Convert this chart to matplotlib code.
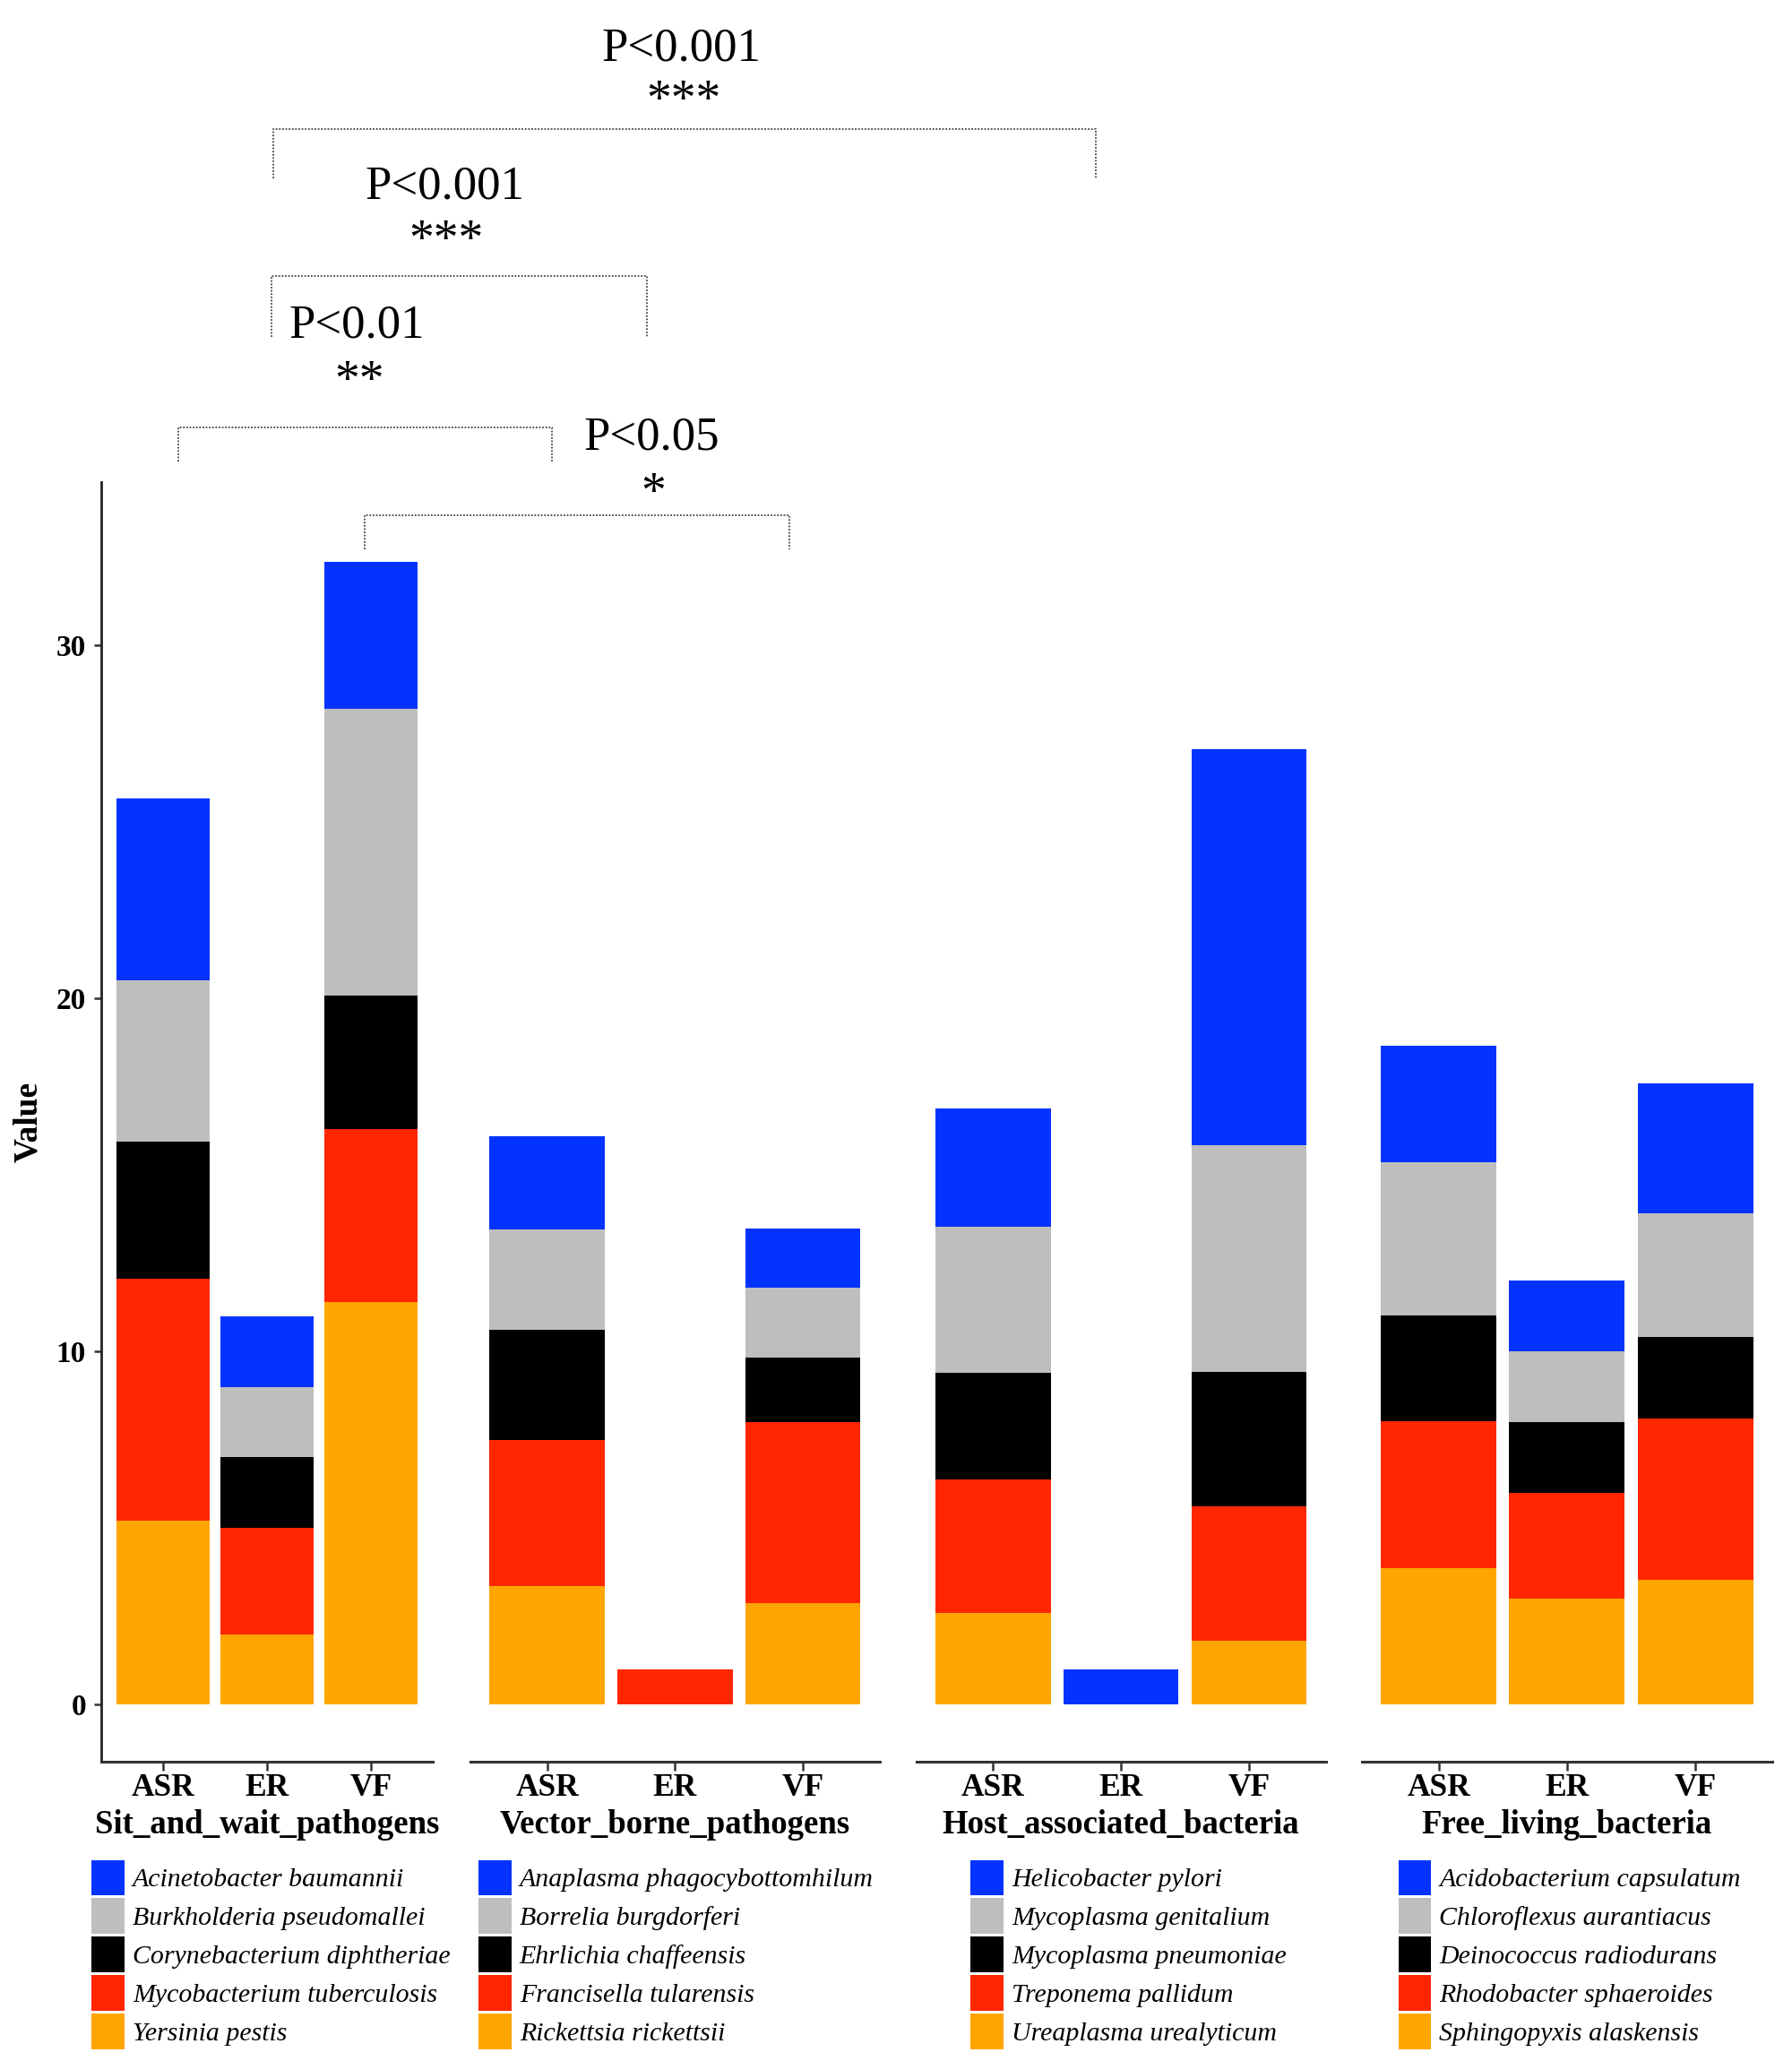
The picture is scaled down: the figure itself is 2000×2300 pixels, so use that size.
import numpy as np
import matplotlib.pyplot as plt
from matplotlib.patches import Patch

plt.rcParams['font.family'] = ['Liberation Serif', 'DejaVu Serif']

## data
groups = ['Sit_and_wait_pathogens', 'Vector_borne_pathogens',
          'Host_associated_bacteria', 'Free_living_bacteria']
conditions = ['ASR', 'ER', 'VF']

# species per group, legend order (top of stack first)
species = [
    ['Acinetobacter baumannii', 'Burkholderia pseudomallei', 'Corynebacterium diphtheriae',
     'Mycobacterium tuberculosis', 'Yersinia pestis'],
    ['Anaplasma phagocybottomhilum', 'Borrelia burgdorferi', 'Ehrlichia chaffeensis',
     'Francisella tularensis', 'Rickettsia rickettsii'],
    ['Helicobacter pylori', 'Mycoplasma genitalium', 'Mycoplasma pneumoniae',
     'Treponema pallidum', 'Ureaplasma urealyticum'],
    ['Acidobacterium capsulatum', 'Chloroflexus aurantiacus', 'Deinococcus radiodurans',
     'Rhodobacter sphaeroides', 'Sphingopyxis alaskensis'],
]

# segment values per group, rows = species (legend order), cols = ASR, ER, VF
sit_and_wait = [[5.15, 2.0, 4.16],
                [4.56, 2.0, 8.12],
                [3.88, 2.0, 3.79],
                [6.85, 3.0, 4.90],
                [5.22, 2.0, 11.39]]
vector_borne = [[2.64, 0.0, 1.69],
                [2.84, 0.0, 1.98],
                [3.11, 0.0, 1.82],
                [4.13, 1.0, 5.13],
                [3.37, 0.0, 2.87]]
host_associated = [[3.35, 1.0, 11.22],
                   [4.14, 0.0, 6.40],
                   [3.02, 0.0, 3.81],
                   [3.78, 0.0, 3.80],
                   [2.60, 0.0, 1.82]]
free_living = [[3.31, 2.0, 3.70],
               [4.32, 2.0, 3.50],
               [3.01, 2.0, 2.29],
               [4.15, 3.0, 4.56],
               [3.87, 3.0, 3.55]]
values = [sit_and_wait, vector_borne, host_associated, free_living]

colors = ['#0433FF', '#BEBEBE', '#000000', '#FF2600', '#FFA500']

# significance annotations: (x_left, x_right, y_bar, y_ends, p text, stars, p pos, star pos)
# positions in a 1366 x 1568 overlay frame
brackets = [
    (208, 835, 98, 136, 'P<0.001', '***', (519, 37), (521, 78)),
    (207, 493, 210, 256, 'P<0.001', '***', (339, 142), (340, 184)),
    (136, 421, 325, 351, 'P<0.01', '**', (272, 248), (274, 291)),
    (278, 602, 392, 418, 'P<0.05', '*', (497, 333), (498, 376)),
]

fig = plt.figure(figsize=(20, 23), dpi=100)

W, H = 1366.0, 1568.0
panel_x = [(77, 330), (358.5, 670.5), (698.5, 1010.5), (1038, 1351)]
y_top, y_bot = 367, 1340
legend_x = [70, 365, 740, 1066]
legend_top = 1415

axes = []
for g in range(4):
    x0, x1 = panel_x[g]
    ax = fig.add_axes([x0 / W, 1 - y_bot / H, (x1 - x0) / W, (y_bot - y_top) / H])
    axes.append(ax)
    vals = np.array(values[g])
    pos = np.arange(1, 4)
    bottom = np.zeros(3)
    # stack from bottom: last species first
    for k in range(4, -1, -1):
        ax.bar(pos, vals[k], 0.9, bottom=bottom, color=colors[k], linewidth=0)
        bottom += vals[k]
    ax.set_xlim(0.4, 3.6)
    ax.set_ylim(-1.6, 34.6)
    ax.set_xticks(pos)
    ax.set_xticklabels(conditions, fontsize=25.5, fontweight='bold')
    ax.set_xlabel(groups[g], fontsize=26.5, fontweight='bold', labelpad=5)
    ax.tick_params(axis='x', length=7, width=1.8, color='#333333', pad=3)
    for s in ['top', 'right']:
        ax.spines[s].set_visible(False)
    ax.spines['bottom'].set_linewidth(2.2)
    ax.spines['bottom'].set_color('#333333')
    if g == 0:
        ax.set_yticks([0, 10, 20, 30])
        ax.set_yticklabels(['0', '10', '20', '30'], fontsize=24, fontweight='bold')
        ax.tick_params(axis='y', length=6, width=1.8, color='#333333', pad=6)
        ax.set_ylabel('Value', fontsize=27, fontweight='bold', labelpad=10)
        ax.spines['left'].set_linewidth(2.0)
        ax.spines['left'].set_color('#222222')
    else:
        ax.spines['left'].set_visible(False)
        ax.set_yticks([])

    handles = [Patch(facecolor=c, edgecolor='none') for c in colors]
    ax.legend(handles, species[g], loc='upper left',
              bbox_to_anchor=(legend_x[g] / W, 1 - legend_top / H),
              bbox_transform=fig.transFigure, frameon=False,
              prop={'family': 'Liberation Serif', 'style': 'italic', 'size': 21.5},
              handlelength=1.22, handleheight=1.68, handletextpad=0.3,
              labelspacing=0.1, borderpad=0, borderaxespad=0)

# overlay for the significance brackets
ov = fig.add_axes([0, 0, 1, 1], facecolor='none')
ov.set_xlim(0, W)
ov.set_ylim(H, 0)
ov.axis('off')
for xl, xr, yb, ye, ptxt, stars, ppos, spos in brackets:
    ov.plot([xl, xl, xr, xr], [ye, yb, yb, ye], color='#444444', lw=1.3,
            linestyle=(0, (1, 1)))
    ov.text(ppos[0], ppos[1], ptxt, fontsize=38, ha='center', va='center')
    ov.text(spos[0], spos[1], stars, fontsize=40, ha='center', va='center')

fig.savefig('out.png', dpi=100, facecolor='white')
